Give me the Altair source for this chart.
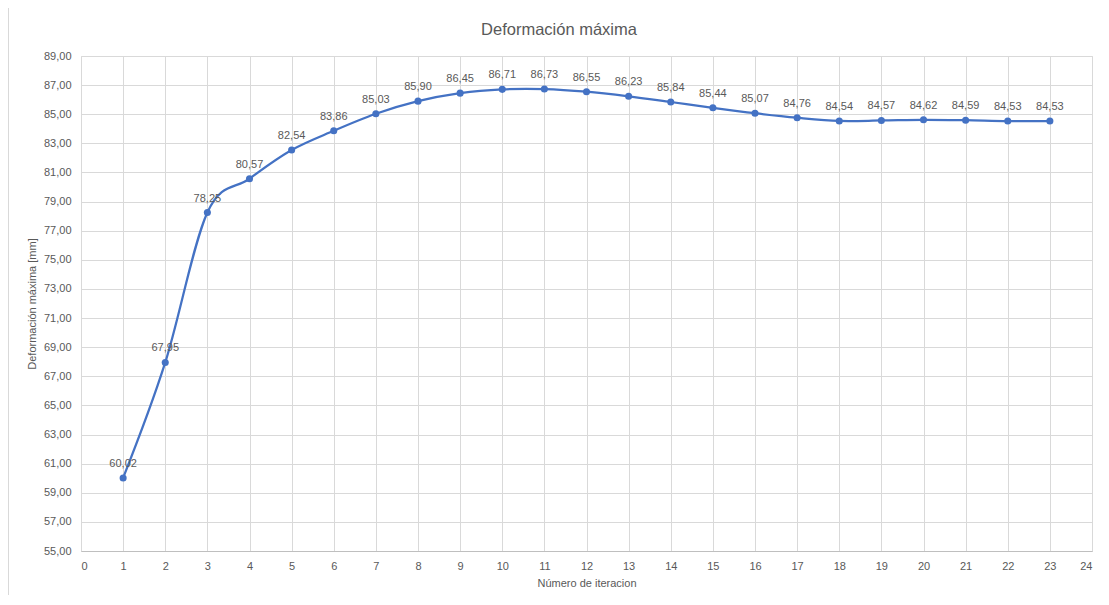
import altair as alt
import pandas as pd

iterations = list(range(1, 24))
deformation = [60.02, 67.95, 78.25, 80.57, 82.54, 83.86, 85.03, 85.90, 86.45, 86.71,
               86.73, 86.55, 86.23, 85.84, 85.44, 85.07, 84.76, 84.54, 84.57, 84.62,
               84.59, 84.53, 84.53]
labels = [f"{v:.2f}".replace(".", ",") for v in deformation]
x_ticks = list(range(0, 25))
y_ticks = list(range(55, 90, 2))
chart_title = "Deformación máxima"

df = pd.DataFrame({"it": iterations, "val": deformation, "lbl": labels})

FONT = "Liberation Sans"
GREY = "#595959"
W, H = 1011, 495

x = alt.X("it:Q", title="Número de iteracion",
          scale=alt.Scale(domain=[0, 24], nice=False, zero=False),
          axis=alt.Axis(values=x_ticks, tickCount=len(x_ticks) + 5, grid=True,
                        gridColor="#d9d9d9",
                        ticks=False, domain=True, domainColor="#bfbfbf",
                        labelOverlap=False,
                        labelColor=GREY, labelFont=FONT, labelFontSize=11,
                        labelPadding=9, titleColor=GREY, titleFont=FONT,
                        titleFontSize=11, titleFontWeight="normal", titlePadding=6))
y = alt.Y("val:Q", title="Deformación máxima [mm]",
          scale=alt.Scale(domain=[55, 89], nice=False, zero=False),
          axis=alt.Axis(values=y_ticks, tickCount=len(y_ticks) + 5, grid=True,
                        gridColor="#d9d9d9",
                        ticks=False, domain=False, labelOverlap=False,
                        labelExpr="replace(format(datum.value, '.2f'), '.', ',')",
                        labelColor=GREY, labelFont=FONT, labelFontSize=11,
                        labelPadding=10, titleColor=GREY, titleFont=FONT,
                        titleFontSize=11, titleFontWeight="normal", titlePadding=6))

base = alt.Chart(df)

line = base.mark_line(color="#4472C4", strokeWidth=2.25, interpolate="cardinal").encode(x=x, y=y)
pts = base.mark_circle(color="#4472C4", size=50, opacity=1).encode(x="it:Q", y="val:Q")
txt = base.mark_text(font=FONT, fontSize=11, color=GREY, baseline="bottom", dy=-9).encode(
    x="it:Q", y="val:Q", text="lbl:N")

single = pd.DataFrame({"t": [chart_title]})
border = alt.Chart(single).mark_rect(
    fill=None, stroke="#d9d9d9", strokeWidth=1, clip=False).encode(
    x=alt.value(-72.5), x2=alt.value(W + 40), y=alt.value(-48.5), y2=alt.value(H + 80))
title = alt.Chart(single).mark_text(
    font=FONT, fontSize=16.5, color=GREY, align="center", baseline="middle").encode(
    x=alt.value(478), y=alt.value(-26), text="t:N")

chart = alt.layer(border, line, pts, txt, title).properties(
    width=W, height=H,
    autosize=alt.AutoSizeParams(type="none"),
    padding={"left": 73, "top": 48, "right": 8, "bottom": 44},
).configure_view(stroke=None).configure(background="white")

chart.save("out.html", embed_options={"renderer": "svg", "actions": False})
